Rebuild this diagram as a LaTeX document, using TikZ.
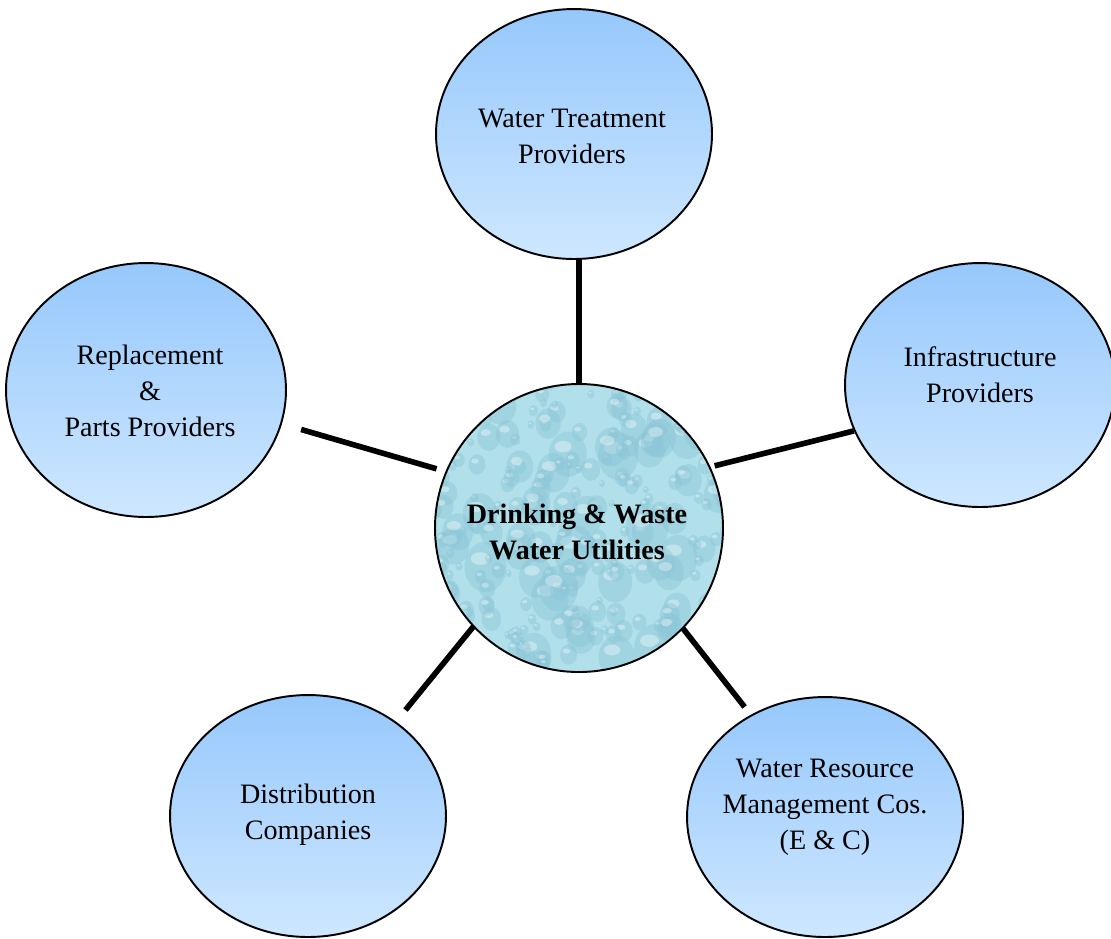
\documentclass[tikz,border=0pt]{standalone}
\usepackage{fontspec}
\setmainfont{Liberation Serif}
\usetikzlibrary{shapes.geometric}
\definecolor{btop}{RGB}{150,200,252}
\definecolor{bbot}{RGB}{206,231,255}
\definecolor{water}{RGB}{178,224,234}
\definecolor{dropdark}{RGB}{140,198,216}
\begin{document}
\begin{tikzpicture}[x=0.02cm,y=-0.02cm,
  outer/.style={ellipse, draw=black, line width=1.1pt, top color=btop, bottom color=bbot,
    minimum width=5.52cm, minimum height=5.0cm, inner sep=0pt},
  lbl/.style={align=center, font=\fontsize{16}{20.5}\selectfont, inner sep=0pt},
  link/.style={line width=3.2pt}]
\useasboundingbox (0,0) rectangle (1111,938);

% outer ellipses
\node[outer] (top) at (574,134) {};
\node[outer, minimum width=5.6cm, minimum height=5.08cm] (left) at (146,390) {};
\node[outer, minimum width=5.4cm, minimum height=4.88cm] (right) at (980,385) {};
\node[outer, minimum height=4.84cm] (bl) at (308,816) {};
\node[outer, minimum height=4.8cm] (br) at (825,817) {};

% hub
\node[circle, fill=water, minimum size=5.76cm, inner sep=0pt] (hub) at (579,528) {};
\begin{scope}
  \clip (hub.center) circle (144);
  \pgfmathsetseed{12}
  \foreach \i in {1,...,300}{
    \pgfmathsetmacro{\px}{425+310*rnd}
    \pgfmathsetmacro{\py}{375+310*rnd}
    \pgfmathsetmacro{\rr}{3+20*rnd*rnd}
    \fill[dropdark,opacity=0.45] (\px,\py) ellipse ({\rr} and {\rr*1.2});
    \fill[white,opacity=0.35] (\px-\rr*0.25,\py-\rr*0.4) ellipse ({\rr*0.45} and {\rr*0.3});
  }
\end{scope}
\draw[line width=1.1pt] (hub.center) circle (144);

% connectors
\draw[link] (hub.north) -- (hub.north |- top.south);
\draw[link, shorten <=0.4cm, shorten >=0.2cm] (left.-14) -- (hub.157);
\draw[link, shorten <=0.1cm] (hub.25) -- (right.200);
\draw[link, shorten <=0.3cm] (bl.47) -- (hub.223);
\draw[link, shorten >=0.2cm] (hub.-44) -- (br.126);

% labels
\node[lbl] (ttop) at (572,136) {Water Treatment\\Providers};
\node[lbl] (tleft) at (150,391) {Replacement\\\&\\Parts Providers};
\node[lbl] (tright) at (980,375) {Infrastructure\\Providers};
\node[lbl] (tbl) at (308,815) {Distribution\\Companies};
\node[lbl] (tbr) at (825,807) {Water Resource\\Management Cos.\\(E \& C)};
\node[lbl, font=\fontsize{16}{20.5}\selectfont\bfseries] (thub) at (577,532) {Drinking \& Waste\\Water Utilities};
\end{tikzpicture}
\end{document}
